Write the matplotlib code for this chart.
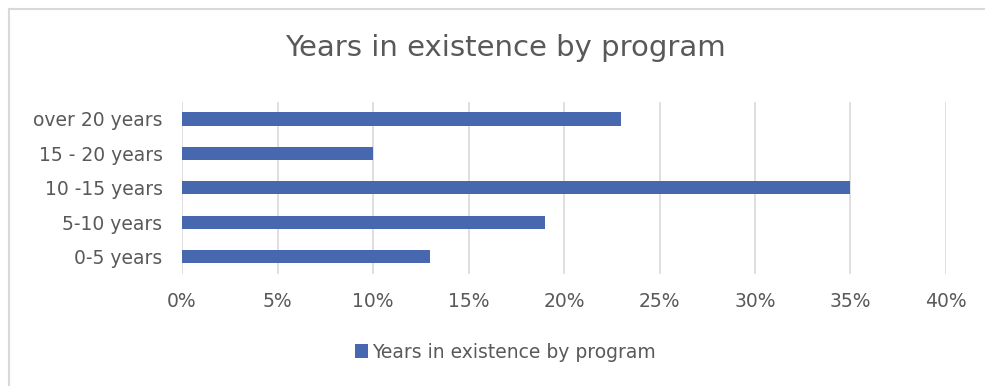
import matplotlib
matplotlib.use("Agg")
import matplotlib.pyplot as plt
import matplotlib.ticker as ticker
from matplotlib.lines import Line2D

categories = ["0-5 years", "5-10 years", "10 -15 years", "15 - 20 years", "over 20 years"]
shares = [0.13, 0.19, 0.35, 0.10, 0.23]
x_ticks = [0, 0.05, 0.10, 0.15, 0.20, 0.25, 0.30, 0.35, 0.40]
series_name = "Years in existence by program"

BAR = "#4767AF"
TEXT = "#595959"
GRID = "#D9D9D9"

plt.rcParams["font.family"] = ["DejaVu Sans"]

fig = plt.figure(figsize=(9.85, 3.86), dpi=100)
ax = fig.add_axes([0.1848, 0.290, 0.7756, 0.4464])

ax.barh(range(len(categories)), shares, height=0.38, color=BAR,
        label=series_name, zorder=3)

ax.set_xlim(0, 0.40)
ax.set_ylim(-0.5, len(categories) - 0.5)
ax.set_xticks(x_ticks)
ax.xaxis.set_major_formatter(ticker.FuncFormatter(lambda v, _: f"{v*100:.0f}%"))
ax.set_yticks(range(len(categories)))
ax.set_yticklabels(categories)
ax.tick_params(axis="both", length=0, colors=TEXT, labelsize=13.5)
ax.tick_params(axis="x", pad=13)
ax.tick_params(axis="y", pad=14)
ax.grid(axis="x", color=GRID, linewidth=1.2, zorder=0)
for s in ax.spines.values():
    s.set_visible(False)

fig.text(0.513, 0.875, series_name, ha="center", va="center",
         fontsize=21, color=TEXT)

fig.legend(loc="center", bbox_to_anchor=(0.513, 0.088), frameon=False,
           fontsize=13.5, labelcolor=TEXT, handlelength=0.7, handleheight=0.7,
           handletextpad=0.2)

# chart-area border (only top and left edges fall inside the crop)
x0, y0 = 8.5 / 985, 1 - 8.5 / 386
fig.add_artist(Line2D([x0, 1], [y0, y0], transform=fig.transFigure,
                      color=GRID, linewidth=1.5))
fig.add_artist(Line2D([x0, x0], [0, y0], transform=fig.transFigure,
                      color=GRID, linewidth=1.5))

plt.savefig("out.png", dpi=100)
plt.close(fig)
